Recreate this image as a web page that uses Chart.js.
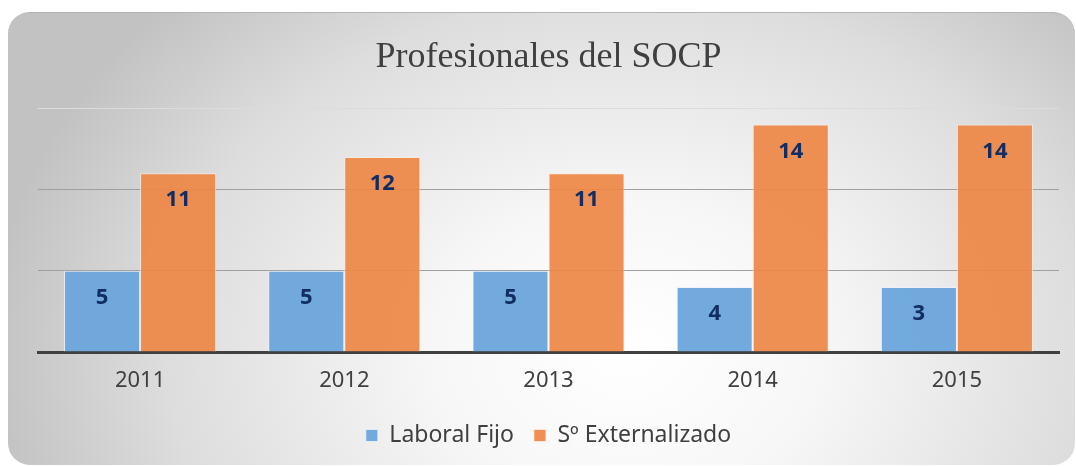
<!DOCTYPE html>
<html>
<head>
<meta charset="utf-8">
<script src="https://cdn.jsdelivr.net/npm/chart.js@4.4.1/dist/chart.umd.min.js"></script>
<style>
  html, body { margin: 0; padding: 0; background: #fff; }
  #wrap { position: relative; width: 1076px; height: 466px; overflow: hidden; }
  #card {
    position: absolute; left: 8px; top: 12px; width: 1067px; height: 452px;
    border-radius: 22px;
    border-top: 1px solid #b4b4b4;
    background: radial-gradient(ellipse 60% 110% at 58% 75%, #ffffff 0%, #f7f7f7 30%, #dddddd 72%, #c2c2c2 100%);
  }
  #resultChart { position: absolute; left: 0; top: 0; }
</style>
</head>
<body>
<div id="wrap">
  <div id="card"></div>
  <canvas id="resultChart" width="1076" height="466"></canvas>
</div>
<script>
const years = ['2011', '2012', '2013', '2014', '2015'];
const fijoValues = [5, 5, 5, 4, 4];
// the source chart labels the last blue bar "3" although it is drawn at 4
const fijoLabels = ['5', '5', '5', '4', '3'];
const externoValues = [11, 12, 11, 14, 14];
const externoLabels = ['11', '12', '11', '14', '14'];
const yTicks = [0, 5, 10, 15];

const barLabels = {
  id: 'barLabels',
  afterDatasetsDraw(chart) {
    const ctx = chart.ctx;
    ctx.save();
    ctx.font = 'bold 22px "Noto Sans"';
    ctx.fillStyle = '#112d63';
    ctx.textAlign = 'center';
    ctx.textBaseline = 'middle';
    chart.data.datasets.forEach((ds, i) => {
      chart.getDatasetMeta(i).data.forEach((bar, j) => {
        ctx.fillText(ds.shownLabels[j], bar.x, bar.y + 27);
      });
    });
    ctx.restore();
  }
};

document.addEventListener("DOMContentLoaded", () => {
  const ctx = document.getElementById('resultChart').getContext('2d');
  new Chart(ctx, {
    type: 'bar',
    data: {
      labels: years,
      datasets: [
        {
          label: 'Laboral Fijo',
          data: fijoValues,
          shownLabels: fijoLabels,
          backgroundColor: 'rgba(108,165,219,0.95)',
          borderColor: 'rgba(235,242,250,0.8)',
          borderWidth: 1
        },
        {
          label: 'Sº Externalizado',
          data: externoValues,
          shownLabels: externoLabels,
          backgroundColor: 'rgba(237,135,70,0.93)',
          borderColor: 'rgba(250,235,225,0.8)',
          borderWidth: 1
        }
      ]
    },
    options: {
      responsive: false,
      animation: false,
      layout: { padding: { left: 38, right: 17, top: 12, bottom: 9 } },
      categoryPercentage: 0.745,
      barPercentage: 1.0,
      plugins: {
        title: {
          display: true,
          text: 'Profesionales del SOCP',
          color: '#404040',
          font: { family: '"Liberation Serif"', size: 36, weight: 'normal' },
          padding: { top: 24, bottom: 29 }
        },
        legend: {
          position: 'bottom',
          labels: {
            color: '#404040',
            font: { family: '"Noto Sans"', size: 23 },
            boxWidth: 12,
            boxHeight: 12,
            padding: 20
          }
        },
        tooltip: { enabled: false }
      },
      scales: {
        x: {
          grid: { display: false, drawTicks: false },
          border: { display: true, color: '#404040', width: 3 },
          ticks: {
            color: '#404040',
            font: { family: '"Noto Sans"', size: 22 },
            padding: 16
          },
          afterFit(scale) { scale.height = 52; }
        },
        y: {
          min: 0,
          max: 15,
          afterBuildTicks(scale) { scale.ticks = yTicks.map(v => ({ value: v })); },
          ticks: { display: false },
          border: { display: false },
          grid: {
            drawTicks: false,
            color: c => c.tick.value === 15 ? '#dcdcdc' : (c.tick.value === 0 ? 'rgba(0,0,0,0)' : '#a0a0a0'),
            lineWidth: 1
          }
        }
      }
    },
    plugins: [barLabels]
  });
});
</script>
</body>
</html>
